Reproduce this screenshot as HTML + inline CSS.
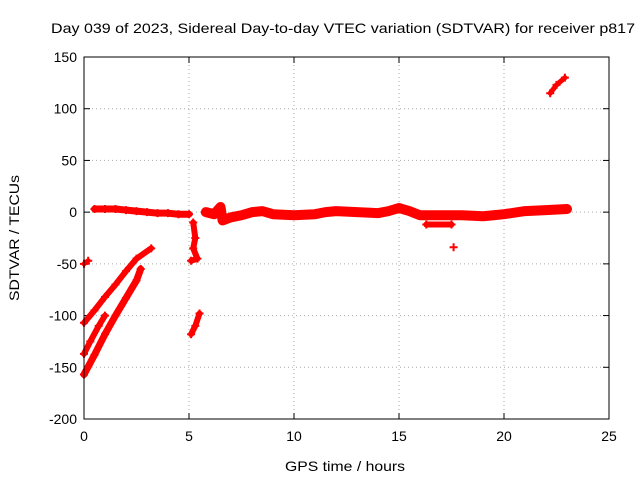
<!DOCTYPE html>
<html><head><meta charset="utf-8"><style>
body{margin:0;background:#fff}
svg{display:block;font-family:"Liberation Sans",sans-serif}
</style></head><body>
<svg id="chart" width="640" height="480">
<text x="343" y="33" text-anchor="middle" font-size="14" textLength="584" lengthAdjust="spacingAndGlyphs">Day 039 of 2023, Sidereal Day-to-day VTEC variation (SDTVAR) for receiver p817</text>
<text x="345" y="471" text-anchor="middle" font-size="14" textLength="120" lengthAdjust="spacingAndGlyphs">GPS time / hours</text>
<text transform="translate(19,238) rotate(-90)" text-anchor="middle" font-size="14" textLength="126" lengthAdjust="spacingAndGlyphs">SDTVAR / TECUs</text>
<g id="grid"></g><g id="ticks"></g><g id="series"></g>
<rect x="84" y="57" width="525" height="362" fill="none" stroke="#000"/>
</svg>
<script>
const xTicks=[0,5,10,15,20,25];
const yTicks=[150,100,50,0,-50,-100,-150,-200];
const bandAX=[0.5,1,1.5,2,2.5,3,3.5,4,4.5,5];
const bandAY=[3,3,3,2,1,0,-1,-1,-2,-2];
const bandBX=[5.8,6.2,6.5,6.6,7,7.5,8,8.5,9,10,11,11.5,12,13,14,14.5,15,15.5,16,17,18,19,19.5,20,21,22,23];
const bandBY=[0,-2,5,-8,-5,-3,0,1,-2,-3,-2,0,1,0,-1,1,4,1,-3,-3,-3,-4,-3,-2,1,2,3];
const curveAX=[0,0.5,1,1.5,2,2.5,3.2];
const curveAY=[-107,-95,-82,-70,-57,-45,-35];
const curveBX=[0,0.3,0.7,1];
const curveBY=[-137,-125,-110,-100];
const curveCX=[0,0.5,1,1.5,2,2.5,2.7];
const curveCY=[-157,-138,-118,-100,-83,-66,-55];
const shortX=[0,0.2];
const shortY=[-50,-47];
const passAX=[5.2,5.3,5.2,5.4,5.1];
const passAY=[-10,-25,-35,-45,-47];
const passBX=[5.1,5.3,5.5];
const passBY=[-118,-110,-98];
const dipX=[16.3,17.5];
const dipY=[-12,-12];
const lateX=[22.2,22.5,22.9];
const lateY=[115,123,130];
const singleX=[17.6];
const singleY=[-34];
const X0=84,X1=609,Y0=57,Y1=419;
const sx=v=>X0+(v-0)/25*(X1-X0);
const sy=v=>Y0+(150-v)/350*(Y1-Y0);
const NS="http://www.w3.org/2000/svg";
function mk(t,a,p){const e=document.createElementNS(NS,t);for(const k in a)e.setAttribute(k,a[k]);p.appendChild(e);return e;}
const grid=document.getElementById('grid'),ticks=document.getElementById('ticks'),ser=document.getElementById('series');
xTicks.forEach(t=>{const x=sx(t);
 if(t>0&&t<25){const g=mk('line',{x1:x,x2:x,y1:Y0,y2:Y1,stroke:'#aaa','stroke-dasharray':'1,3'},grid);
 }
 mk('line',{x1:x,x2:x,y1:Y1,y2:Y1-6,stroke:'#000'},ticks);mk('line',{x1:x,x2:x,y1:Y0,y2:Y0+6,stroke:'#000'},ticks);
 const l=mk('text',{x:x,y:Y1+22,'text-anchor':'middle','font-size':14},ticks);l.textContent=t;
 });
yTicks.forEach(t=>{const y=sy(t);
 if(t<150&&t>-200){const g=mk('line',{x1:X0,x2:X1,y1:y,y2:y,stroke:'#aaa','stroke-dasharray':'1,3'},grid);
 }
 mk('line',{x1:X0,x2:X0+6,y1:y,y2:y,stroke:'#000'},ticks);mk('line',{x1:X1,x2:X1-6,y1:y,y2:y,stroke:'#000'},ticks);
 const l=mk('text',{x:X0-7,y:y+5,'text-anchor':'end','font-size':14},ticks);l.textContent=t;
 });
function series(xs,ys,name,w){
 const g=mk('g',{},ser);
 
 
 if(xs.length>1)mk('polyline',{points:xs.map((x,i)=>sx(x)+','+sy(ys[i])).join(' '),fill:'none',stroke:'#f00','stroke-width':w,'stroke-linejoin':'round','stroke-linecap':'round'},g);
 xs.forEach((x,i)=>{const cx=sx(x),cy=sy(ys[i]);
  mk('path',{d:`M${cx-4},${cy}H${cx+4}M${cx},${cy-4}V${cy+4}`,stroke:'#f00','stroke-width':2},g);});
}
series(bandAX,bandAY,'series-band-early',7);
series(bandBX,bandBY,'series-band-main',10);
series(curveAX,curveAY,'series-curve-a',6);
series(curveBX,curveBY,'series-curve-b',6);
series(curveCX,curveCY,'series-curve-c',7);
series(shortX,shortY,'series-short',5);
series(passAX,passAY,'series-pass-a',6);
series(passBX,passBY,'series-pass-b',6);
series(dipX,dipY,'series-dip',6);
series(lateX,lateY,'series-late',5);
series(singleX,singleY,'series-single',2);
</script>
</body></html>
